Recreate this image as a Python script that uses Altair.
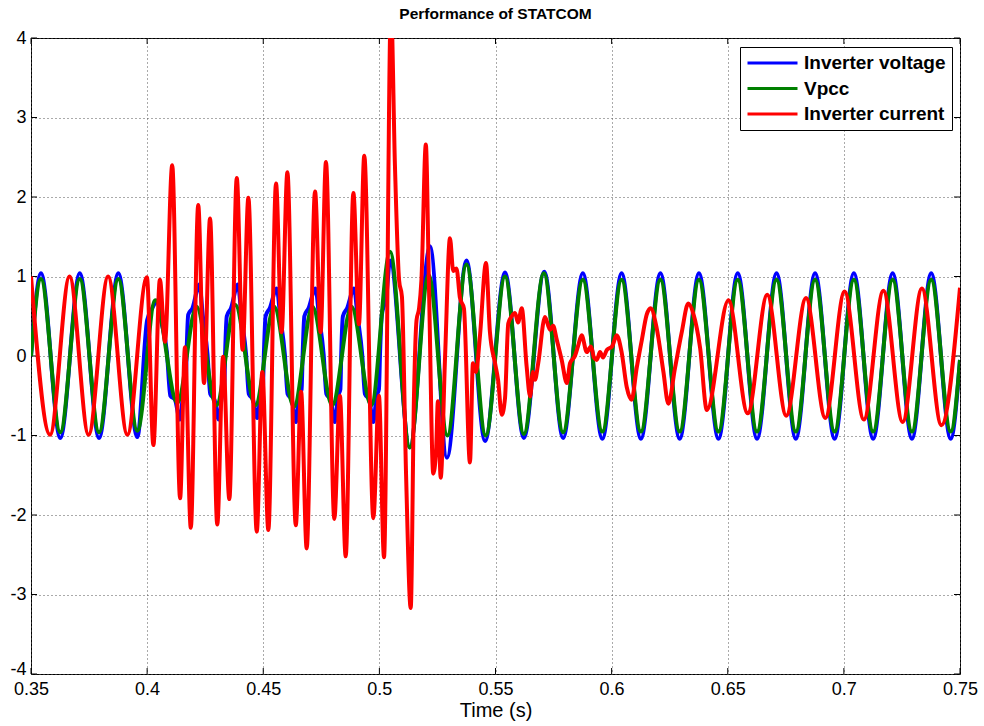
import altair as alt
import pandas as pd

# ---------------- text ----------------
chart_title = "Performance of STATCOM"
x_title = "Time (s)"
series_names = ["Inverter voltage", "Vpcc", "Inverter current"]
series_colors = ["#0000ff", "#008000", "#ff0000"]

x_ticks = [0.35, 0.4, 0.45, 0.5, 0.55, 0.6, 0.65, 0.7, 0.75]
y_ticks = [-4, -3, -2, -1, 0, 1, 2, 3, 4]

# ---------------- data (turning points) ----------------
blue_t = [0.3500, 0.3543, 0.3626, 0.3710, 0.3793, 0.3876, 0.3958,
          0.4000, 0.4022, 0.4045, 0.4060, 0.4085, 0.4100, 0.4120, 0.4141, 0.4155, 0.4166,
          0.4170, 0.4177, 0.4195, 0.4225, 0.4240, 0.4260, 0.4272, 0.4290, 0.4308, 0.4322, 0.4332,
          0.4336, 0.4343, 0.4361, 0.4391, 0.4406, 0.4426, 0.4438, 0.4456, 0.4474, 0.4488, 0.4498,
          0.4503, 0.4510, 0.4528, 0.4558, 0.4573, 0.4593, 0.4605, 0.4623, 0.4641, 0.4655, 0.4665,
          0.4670, 0.4677, 0.4695, 0.4725, 0.4740, 0.4760, 0.4772, 0.4790, 0.4808, 0.4822, 0.4832,
          0.4836, 0.4843, 0.4861, 0.4891, 0.4906, 0.4926, 0.4938, 0.4956, 0.4974, 0.4988, 0.4998,
          0.5003, 0.5010, 0.5030, 0.5046, 0.5131, 0.5218, 0.5291, 0.5375, 0.5455, 0.5541, 0.5622,
          0.5710, 0.5791,
          0.5876, 0.5960, 0.6043, 0.6126, 0.6210, 0.6293, 0.6376, 0.6460, 0.6543, 0.6626,
          0.6710, 0.6793, 0.6876, 0.6960, 0.7043, 0.7126, 0.7210, 0.7293, 0.7376, 0.7460, 0.7500]
blue_v = [0.00, 1.04, -1.03, 1.04, -1.03, 1.04, -1.02,
          0.45, 0.60, 0.70, 0.45, 0.05, -0.50, -0.55, -0.80, -0.50, -0.42,
          0.05, 0.52, 0.60, 0.90, 0.50, 0.02, -0.48, -0.55, -0.80, -0.50, -0.42,
          0.05, 0.50, 0.60, 0.90, 0.50, 0.02, -0.48, -0.55, -0.78, -0.50, -0.42,
          0.05, 0.50, 0.60, 0.85, 0.50, 0.02, -0.48, -0.55, -0.83, -0.50, -0.42,
          0.05, 0.50, 0.60, 0.85, 0.50, 0.02, -0.48, -0.55, -0.83, -0.50, -0.42,
          0.05, 0.50, 0.60, 0.85, 0.50, 0.02, -0.48, -0.55, -0.83, -0.50, -0.42,
          0.05, 0.50, 0.75, 1.20, -1.15, 1.38, -1.28, 1.20, -1.07, 1.05, -1.03,
          1.06, -1.03,
          1.04, -1.04, 1.04, -1.04, 1.04, -1.04, 1.04, -1.04, 1.04, -1.04,
          1.04, -1.04, 1.04, -1.04, 1.04, -1.04, 1.04, -1.04, 1.04, -1.04, -0.05]

green_t = [0.3500, 0.3543, 0.3626, 0.3710, 0.3793, 0.3876, 0.3958, 0.4035, 0.4130, 0.4213,
           0.4298, 0.4380, 0.4466, 0.4547, 0.4632, 0.4712, 0.4797, 0.4880, 0.4965, 0.5046,
           0.5131, 0.5212, 0.5293, 0.5375, 0.5458, 0.5541, 0.5622, 0.5708, 0.5791, 0.5876,
           0.5960, 0.6043, 0.6126, 0.6210, 0.6293, 0.6376, 0.6460, 0.6543, 0.6626, 0.6710,
           0.6793, 0.6876, 0.6960, 0.7043, 0.7126, 0.7210, 0.7293, 0.7376, 0.7460, 0.7500]
green_v = [0.00, 0.97, -0.96, 0.97, -0.96, 0.97, -0.94, 0.70, -0.59, 0.62,
           -0.62, 0.64, -0.62, 0.62, -0.64, 0.62, -0.62, 0.62, -0.62, 1.31,
           -1.15, 1.02, -1.00, 1.15, -1.00, 1.00, -0.98, 1.04, -0.96, 0.96,
           -0.95, 0.96, -0.95, 0.96, -0.95, 0.96, -0.95, 0.96, -0.95, 0.96,
           -0.95, 0.96, -0.95, 0.96, -0.95, 0.96, -0.95, 0.96, -0.95, -0.05]

red_t = [0.3500, 0.3582, 0.3666, 0.3748, 0.3832, 0.3915, 0.3999, 0.4027, 0.4055, 0.4077,
         0.4108, 0.4142, 0.4163, 0.4188, 0.4220, 0.4245, 0.4271, 0.4302, 0.4327, 0.4354,
         0.4386, 0.4411, 0.4436, 0.4472, 0.4496, 0.4522, 0.4555, 0.4579, 0.4604, 0.4640,
         0.4663, 0.4687, 0.4723, 0.4747, 0.4770, 0.4806, 0.4830, 0.4855, 0.4888, 0.4912,
         0.4935, 0.4974, 0.4998, 0.5020, 0.5050, 0.5067, 0.5085, 0.5097, 0.5115, 0.5135,
         0.5149, 0.5160, 0.5171, 0.5181, 0.5200, 0.5214, 0.5232, 0.5244, 0.5252, 0.5264,
         0.5283, 0.5304, 0.5318, 0.5332, 0.5347, 0.5364, 0.5390, 0.5403, 0.5416, 0.5433,
         0.5459, 0.5476, 0.5498, 0.5511, 0.5527, 0.5541, 0.5555, 0.5570, 0.5584, 0.5597,
         0.5613, 0.5634, 0.5649, 0.5661, 0.5670, 0.5684, 0.5713, 0.5735, 0.5748, 0.5764,
         0.5785, 0.5807, 0.5821, 0.5842, 0.5855, 0.5871, 0.5893, 0.5911, 0.5924, 0.5936,
         0.5950, 0.5963, 0.5980, 0.6002, 0.6022, 0.6043, 0.6065, 0.6086, 0.6108, 0.6130,
         0.6151, 0.6168, 0.6194, 0.6223, 0.6244, 0.6273, 0.6302, 0.6330, 0.6352, 0.6381,
         0.6410, 0.6503, 0.6586, 0.6670, 0.6752, 0.6837, 0.6920, 0.7003, 0.7086, 0.7170,
         0.7253, 0.7336, 0.7420, 0.7500]
red_v = [1.00, -0.99, 1.00, -0.99, 1.00, -0.99, 0.99, -1.12, 0.96, 0.18,
         2.40, -1.79, 0.11, -2.16, 1.90, -0.34, 1.73, -2.12, -0.01, -1.80,
         2.24, 0.08, 1.99, -2.21, -0.20, -2.19, 2.17, 0.30, 2.31, -2.13,
         -0.45, -2.42, 2.07, 0.30, 2.44, -2.05, -0.50, -2.52, 2.05, 0.40,
         2.52, -2.04, -0.50, -2.53, 4.40, 2.40, 0.95, 0.75, -1.50, -3.17,
         -0.50, 0.45, 0.60, 0.95, 2.66, 0.80, -1.48, -1.20, -0.57, -1.53,
         0.00, 1.48, 1.07, 1.10, 0.73, 0.60, -1.34, -0.09, -0.20, 0.25,
         1.17, 0.30, -0.09, -0.30, -0.74, -0.53, 0.41, 0.50, 0.54, 0.42,
         0.60, -0.13, -0.51, -0.20, -0.30, -0.09, 0.49, 0.33, 0.38, 0.20,
         -0.05, -0.34, -0.09, 0.00, 0.12, 0.26, 0.05, 0.12, -0.02, -0.05,
         0.05, -0.02, 0.08, 0.12, 0.26, 0.05, -0.39, -0.55, -0.15, 0.20,
         0.52, 0.60, 0.35, -0.20, -0.60, -0.15, 0.30, 0.66, 0.53, 0.10,
         -0.68, 0.70, -0.72, 0.77, -0.75, 0.73, -0.78, 0.81, -0.80, 0.82,
         -0.83, 0.85, -0.87, 0.86]

blue_df = pd.DataFrame({"t": blue_t, "v": blue_v, "series": series_names[0]})
green_df = pd.DataFrame({"t": green_t, "v": green_v, "series": series_names[1]})
red_df = pd.DataFrame({"t": red_t, "v": red_v, "series": series_names[2]})
xtick_df = pd.DataFrame({"t": x_ticks})
ytick_df = pd.DataFrame({"v": y_ticks})

# ---------------- chart ----------------
W, H = 929, 636
narrow = "Liberation Sans Narrow, Liberation Sans, Arial, sans-serif"

x_scale = alt.Scale(domain=[0.35, 0.75], nice=False, zero=False)
y_scale = alt.Scale(domain=[-4, 4], nice=False, zero=False)

x_axis = alt.Axis(values=x_ticks, labelExpr="'' + datum.value", title=x_title,
                  grid=True, ticks=False, domain=False, labelPadding=6,
                  titlePadding=2, labelFlush=False)
y_axis = alt.Axis(values=y_ticks, labelExpr="'' + datum.value", title=None,
                  grid=True, ticks=False, domain=False, labelPadding=5,
                  labelOffset={"condition": {"test": "datum.value === -4", "value": -5},
                               "value": 0})

x_enc = alt.X("t:Q", scale=x_scale, axis=x_axis)
y_enc = alt.Y("v:Q", scale=y_scale, axis=y_axis)

color_enc = alt.Color(
    "series:N",
    scale=alt.Scale(domain=series_names, range=series_colors),
    legend=alt.Legend(
        title=None, orient="none", legendX=709, legendY=9,
        symbolType="stroke", symbolSize=2500, symbolStrokeWidth=3,
        labelFont="Liberation Sans", labelFontSize=19, labelFontWeight="bold",
        labelColor="black", labelOffset=5, rowPadding=5.5, padding=6,
        clipHeight=20,
        strokeColor="black", fillColor="white", cornerRadius=0,
    ),
)

def series_layer(df):
    return alt.Chart(df).mark_line(
        interpolate="monotone", strokeWidth=4, clip=True
    ).encode(x=x_enc, y=y_enc, color=color_enc)

tick_style = dict(color="black", strokeWidth=1)
ticks_bottom = alt.Chart(xtick_df).mark_rule(**tick_style).encode(
    x=x_enc, y=alt.value(H), y2=alt.value(H - 6))
ticks_top = alt.Chart(xtick_df).mark_rule(**tick_style).encode(
    x=x_enc, y=alt.value(0), y2=alt.value(6))
ticks_left = alt.Chart(ytick_df).mark_rule(**tick_style).encode(
    y=y_enc, x=alt.value(0), x2=alt.value(6))
ticks_right = alt.Chart(ytick_df).mark_rule(**tick_style).encode(
    y=y_enc, x=alt.value(W), x2=alt.value(W - 6))

chart = alt.layer(
    ticks_bottom, ticks_top, ticks_left, ticks_right,
    series_layer(blue_df), series_layer(green_df), series_layer(red_df),
).properties(
    width=W, height=H,
    background="white",
    title=alt.TitleParams(chart_title, font="Liberation Sans", fontSize=15.5,
                          fontWeight="bold", color="black", anchor="middle",
                          baseline="middle", offset=0),
    autosize=alt.AutoSizeParams(type="none"),
    padding={"left": 31, "top": 38, "right": 24, "bottom": 52},
).configure_view(
    stroke="black", strokeWidth=1
).configure_axis(
    labelFont=narrow, labelFontSize=18, labelColor="black",
    titleFont=narrow, titleFontSize=20, titleFontWeight="normal", titleColor="black",
    gridColor="#555555", gridDash=[1, 3], gridWidth=1, gridOpacity=1,
)

chart.save("out.html", embed_options={"renderer": "svg", "actions": False})
